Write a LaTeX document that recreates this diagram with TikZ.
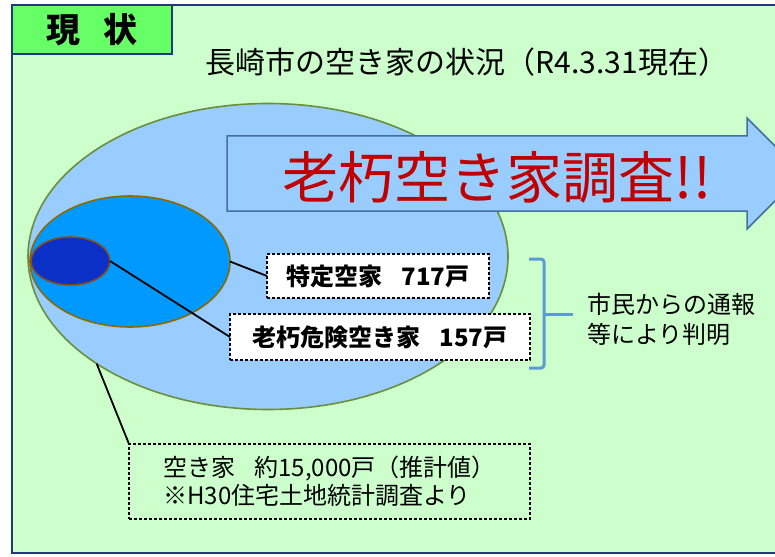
\documentclass[tikz,border=0pt]{standalone}
\usepackage{fontspec}
\setmainfont{Noto Sans CJK JP}
\usetikzlibrary{shapes.geometric}
\definecolor{paneltint}{HTML}{CCFFCC}
\definecolor{tabgreen}{HTML}{66FF66}
\definecolor{framenavy}{HTML}{1F3A78}
\definecolor{skyfill}{HTML}{99CCFF}
\definecolor{midblue}{HTML}{0099FF}
\definecolor{deepblue}{HTML}{0A30C8}
\definecolor{rimgreen}{HTML}{6A8F3A}
\definecolor{rimgold}{HTML}{8C6A00}
\definecolor{rimbrown}{HTML}{8B4A1C}
\definecolor{arrowrim}{HTML}{41719C}
\definecolor{alertred}{HTML}{C00000}
\definecolor{bracecol}{HTML}{5B9BD5}
\begin{document}
\begin{tikzpicture}[x=1pt,y=-1pt,
    every node/.style={inner sep=0pt,outer sep=0pt},
    oval/.style={ellipse,draw,line width=1.6pt},
    tagbox/.style={draw,fill=white,dash pattern=on 3pt off 2pt,line width=1.2pt,
      font=\fontsize{24}{28}\selectfont\bfseries},
    link/.style={line width=1.8pt},
    plain/.style={font=\fontsize{24}{28}\selectfont,align=left}]
  \useasboundingbox (0,0) rectangle (775,556);
  \fill[paneltint] (12,5) rectangle (790,553);
  % nested sets of houses
  \node[oval,draw=rimgreen,fill=skyfill,minimum width=480pt,minimum height=306pt] (all) at (268,256.5) {};
  \node[oval,draw=rimgold,fill=midblue,minimum width=200pt,minimum height=131pt] (spec) at (130,261.5) {};
  \node[oval,draw=rimbrown,fill=deepblue,minimum width=79pt,minimum height=48pt] (old) at (70.5,261) {};
  % survey arrow
  \draw[arrowrim,fill=skyfill,line width=1.5pt]
    (227,136) -- (747,136) -- (747,118) -- (802.5,173.5) -- (747,229) -- (747,211) -- (227,211) -- cycle;
  \node[text=alertred,font=\fontsize{56}{60}\selectfont] (survey) at (497,177) {老朽空き家調査!!};
  % labels
  \node[tagbox,minimum width=222pt,minimum height=44pt] (spectag) at (378,276) {特定空家\hspace{0.8em}717戸};
  \node[tagbox,minimum width=300pt,minimum height=46pt] (oldtag) at (380,337) {老朽危険空き家\hspace{0.8em}157戸};
  \node[plain,draw,dash pattern=on 3pt off 2pt,line width=1.2pt,minimum width=401pt,minimum height=75pt]
    (alltag) at (329.5,481.5) {空き家\hspace{0.8em}約15,000戸（推計値）\\※H30住宅土地統計調査より};
  \begin{scope}[link]
    \draw (spec.east) -- (spectag.west);
    \draw (old.east) -- (oldtag.west);
    \draw (all.212) -- (alltag.north west);
  \end{scope}
  % reports from citizens
  \draw[bracecol,line width=3pt,rounded corners=3pt] (529,259) -- (544,259) -- (544,368) -- (529,368);
  \draw[bracecol,line width=3pt] (544,314) coordinate (tip) -- (573,314);
  \node[plain,anchor=west,font=\fontsize{24}{30}\selectfont] (report) at (587,319) {市民からの通報\\等により判明};
  % heading
  \node[font=\fontsize{30}{34}\selectfont] (title) at (467,62) {長崎市の空き家の状況（R4.3.31現在）};
  \node[draw=framenavy,fill=tabgreen,line width=2pt,minimum width=160pt,minimum height=49pt,
    font=\fontsize{34}{38}\selectfont\bfseries] (tab) at (92,29.5) {現\hspace{0.7em}状};
  \draw[framenavy,line width=2.5pt] (12,5) rectangle (790,553);
\end{tikzpicture}
\end{document}
